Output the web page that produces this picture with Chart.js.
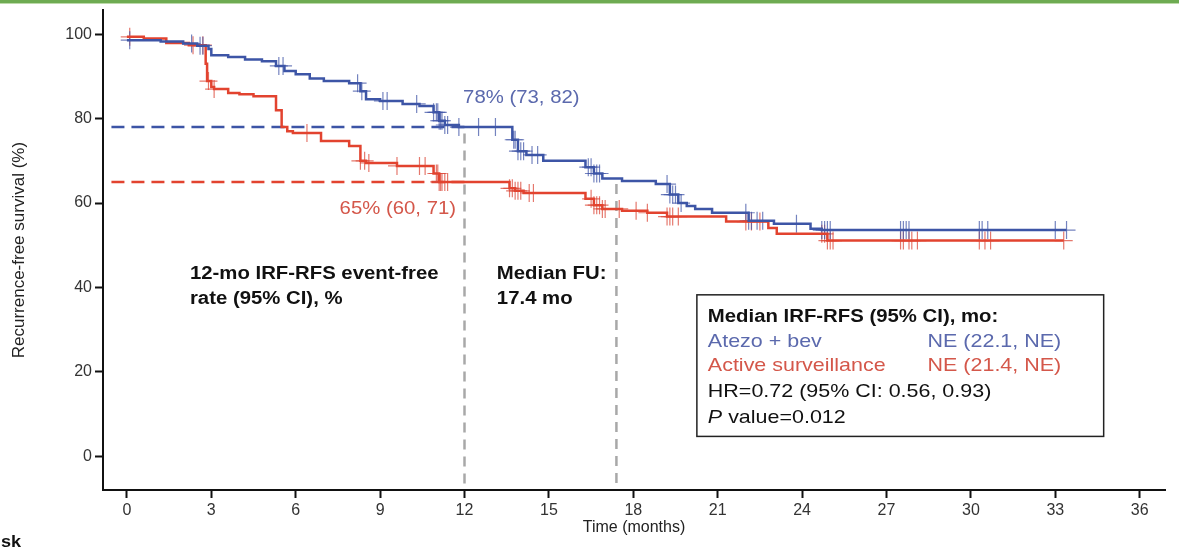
<!DOCTYPE html>
<html>
<head>
<meta charset="utf-8">
<title>IRF-RFS</title>
<script src="https://cdn.jsdelivr.net/npm/chart.js@4/dist/chart.umd.min.js"></script>
<style>
  html, body { margin: 0; padding: 0; background: #fff; }
  #wrap { position: relative; width: 1179px; height: 549px; }
  #topbar { position: absolute; left: 0; top: 0; width: 1179px; height: 3px; background: #6eab52; border-bottom: 1px solid #bcdaa9; }
  canvas { display: block; }
</style>
</head>
<body>
<div id="wrap">
  <canvas id="kmChart" width="1179" height="549"></canvas>
  <div id="topbar"></div>
</div>
<script>
// Kaplan-Meier steps: month of each step and survival (%) after it
const blueTimes = [0, 1.2, 2.0, 2.5, 2.9, 3.0, 3.6, 4.2, 4.8, 5.3, 5.6, 6.0, 6.5, 7.0, 7.9, 8.3, 8.5, 9.0, 9.8, 10.4,
                   10.9, 11.1, 11.3, 11.8, 13.7, 13.9, 14.2, 14.8, 16.3, 16.6, 16.9, 17.6, 18.8, 19.3, 19.6, 19.9, 20.2,
                   20.8, 22.1, 23.0, 24.3, 24.7, 33.4];
const blueSurv  = [98.6, 98.3, 97.8, 97.3, 96.5, 95.0, 94.6, 94.0, 93.6, 92.5, 91.3, 90.5, 89.5, 88.9, 88.4, 86.5, 84.6, 84.2, 83.5, 83.0,
                   81.5, 79.5, 78.5, 78.0, 75.0, 72.3, 71.4, 70.0, 68.5, 67.0, 65.8, 65.2, 64.5, 62.0, 60.0, 59.3, 58.6,
                   57.7, 55.8, 55.1, 53.9, 53.6, 53.6];
const redTimes  = [0, 0.6, 1.4, 2.2, 2.8, 2.85, 3.0, 3.1, 3.6, 4.0, 4.5, 5.3, 5.5, 5.7, 5.9, 6.9, 7.9, 8.3, 8.5, 9.6,
                   10.9, 11.1, 13.6, 13.8, 14.1, 16.3, 16.6, 16.9, 17.6, 18.5, 19.2, 21.3, 22.8, 23.1, 24.9, 33.3];
const redSurv   = [99.4, 99.0, 97.9, 97.4, 93.0, 88.9, 87.5, 87.0, 86.1, 85.8, 85.3, 82.0, 78.0, 77.0, 76.6, 74.7, 73.5, 70.0, 69.5, 68.8,
                   67.0, 65.0, 63.5, 62.9, 62.4, 61.0, 59.5, 58.6, 58.2, 57.7, 56.8, 55.6, 54.1, 52.7, 51.1, 51.1];

// censored patients (months)
const blueCensor = [0.1, 2.3, 2.6, 2.7, 5.4, 5.55, 8.2, 8.35, 9.1, 9.25, 10.3, 10.9, 11.0, 11.05, 11.1, 11.15, 11.2, 11.3, 11.4,
                    11.8, 12.5, 13.1, 13.75, 13.8, 13.9, 14.0, 14.1, 14.4, 14.6, 16.4, 16.5, 16.6, 16.7, 16.8, 19.2, 19.3,
                    19.4, 19.5, 19.7, 22.0, 22.1, 22.2, 22.4, 22.6, 23.8, 24.7, 24.8, 24.9, 25.0, 27.5, 27.6, 27.7, 27.8,
                    30.3, 30.4, 30.6, 33.0, 33.4];
const redCensor  = [0.1, 2.35, 2.7, 2.9, 3.1, 6.4, 8.3, 8.45, 8.6, 9.6, 10.4, 10.6, 11.0, 11.05, 11.1, 11.15, 11.2, 11.3, 11.4,
                    13.6, 13.7, 13.8, 13.9, 14.0, 14.3, 14.45, 16.5, 16.6, 16.7, 16.8, 16.9, 17.0, 17.5, 18.1, 18.5, 19.2,
                    19.3, 19.4, 19.6, 22.0, 22.2, 22.5, 24.7, 24.8, 24.9, 25.0, 25.1, 27.5, 27.6, 27.8, 27.9, 28.1, 30.3,
                    30.5, 30.7, 33.3];

const xTicks = [0, 3, 6, 9, 12, 15, 18, 21, 24, 27, 30, 33, 36];
const yTicks = [0, 20, 40, 60, 80, 100];

const landmark = 12;          // months
const medianFollowUp = 17.4;  // months
const blueRate12 = 78;
const redRate12 = 65;

const BLUE = '#3d55a6';
const RED = '#e2432f';
const BLUE_TXT = '#5b69ad';
const RED_TXT = '#d4574a';
const FONT = "'Liberation Sans', Arial, sans-serif";

function steps(times, surv) {
  return times.map((t, i) => ({ x: t, y: surv[i] }));
}

function survAt(times, surv, t) {
  let v = surv[0];
  for (let i = 0; i < times.length; i++) {
    if (times[i] <= t) v = surv[i];
  }
  return v;
}

function censorPoints(list, times, surv) {
  return list.map(t => ({ x: t, y: survAt(times, surv, t) }));
}

// text is drawn a little wide, like the rest of the figure
function wideText(ctx, str, px, py, align) {
  ctx.save();
  ctx.translate(px, py);
  ctx.scale(1.13, 1);
  ctx.textAlign = align || 'left';
  ctx.fillText(str, 0, 0);
  ctx.restore();
}

const notes = {
  id: 'notes',
  afterDatasetsDraw(chart) {
    const { ctx } = chart;
    const xs = chart.scales.x, ys = chart.scales.y;
    const X = v => xs.getPixelForValue(v);
    const Y = v => ys.getPixelForValue(v);

    ctx.save();
    ctx.textBaseline = 'middle';

    ctx.font = '18px ' + FONT;
    ctx.fillStyle = BLUE_TXT;
    wideText(ctx, blueRate12 + '% (73, 82)', X(11.95), Y(84.8));
    ctx.fillStyle = RED_TXT;
    wideText(ctx, redRate12 + '% (60, 71)', X(11.7), Y(58.6), 'right');

    ctx.fillStyle = '#111';
    ctx.font = 'bold 18px ' + FONT;
    wideText(ctx, '12-mo IRF-RFS event-free', X(2.24), Y(43.2));
    wideText(ctx, 'rate (95% CI), %', X(2.24), Y(37.3));
    wideText(ctx, 'Median FU:', X(13.15), Y(43.2));
    wideText(ctx, medianFollowUp + ' mo', X(13.15), Y(37.3));

    // median IRF-RFS box
    const bx0 = X(20.26), bx1 = X(34.72), by0 = Y(38.25), by1 = Y(4.7);
    ctx.strokeStyle = '#222';
    ctx.lineWidth = 1.5;
    ctx.strokeRect(bx0, by0, bx1 - bx0, by1 - by0);

    const c1 = X(20.65), c2 = X(28.46);
    ctx.font = 'bold 18px ' + FONT;
    wideText(ctx, 'Median IRF-RFS (95% CI), mo:', c1, Y(33.1));
    ctx.font = '19px ' + FONT;
    ctx.fillStyle = BLUE_TXT;
    wideText(ctx, 'Atezo + bev', c1, Y(27.2));
    wideText(ctx, 'NE (22.1, NE)', c2, Y(27.2));
    ctx.fillStyle = RED_TXT;
    wideText(ctx, 'Active surveillance', c1, Y(21.5));
    wideText(ctx, 'NE (21.4, NE)', c2, Y(21.5));
    ctx.fillStyle = '#111';
    wideText(ctx, 'HR=0.72 (95% CI: 0.56, 0.93)', c1, Y(15.3));
    ctx.font = 'italic 19px ' + FONT;
    wideText(ctx, 'P', c1, Y(9.2));
    const pw = ctx.measureText('P ').width * 1.13;
    ctx.font = '19px ' + FONT;
    wideText(ctx, 'value=0.012', c1 + pw, Y(9.2));

    // start of the risk table row, mostly off the left edge
    ctx.font = 'bold 16px ' + FONT;
    wideText(ctx, 'No. at risk', 21, 543, 'right');
    ctx.restore();
  }
};

const ctx = document.getElementById('kmChart').getContext('2d');
const kmChart = new Chart(ctx, {
  type: 'line',
  data: {
    datasets: [
      {
        data: steps(blueTimes, blueSurv),
        borderColor: BLUE, borderWidth: 2.5, stepped: 'before', pointRadius: 0, order: 1
      },
      {
        data: steps(redTimes, redSurv),
        borderColor: RED, borderWidth: 2.5, stepped: 'before', pointRadius: 0, order: 1
      },
      {
        data: censorPoints(blueCensor, blueTimes, blueSurv),
        showLine: false, pointStyle: 'cross', pointRadius: 9, pointBorderWidth: 1.2,
        pointBorderColor: 'rgba(70, 90, 170, 0.75)', order: 2
      },
      {
        data: censorPoints(redCensor, redTimes, redSurv),
        showLine: false, pointStyle: 'cross', pointRadius: 9, pointBorderWidth: 1.2,
        pointBorderColor: 'rgba(220, 75, 60, 0.75)', order: 2
      },
      // 12-month rates
      {
        data: [{ x: -0.55, y: blueRate12 }, { x: landmark, y: blueRate12 }],
        borderColor: BLUE, borderWidth: 2.5, borderDash: [13, 7], pointRadius: 0, order: 3
      },
      {
        data: [{ x: -0.55, y: redRate12 }, { x: landmark, y: redRate12 }],
        borderColor: RED, borderWidth: 2.5, borderDash: [13, 7], pointRadius: 0, order: 3
      },
      // landmark and median follow-up
      {
        data: [{ x: landmark, y: 76.5 }, { x: landmark, y: -6.5 }],
        borderColor: '#a8a8a8', borderWidth: 2.5, borderDash: [10, 7], pointRadius: 0, order: 4
      },
      {
        data: [{ x: medianFollowUp, y: 64.5 }, { x: medianFollowUp, y: -6.5 }],
        borderColor: '#a8a8a8', borderWidth: 2.5, borderDash: [10, 7], pointRadius: 0, order: 4
      }
    ]
  },
  options: {
    responsive: false,
    devicePixelRatio: 1,
    animation: false,
    layout: { padding: { top: 6, right: 14, left: 0, bottom: 0 } },
    plugins: {
      legend: { display: false },
      tooltip: { enabled: false }
    },
    scales: {
      x: {
        type: 'linear',
        min: -0.85,
        max: 36.9,
        afterFit: s => { s.height = 59; },
        afterBuildTicks: s => { s.ticks = xTicks.map(v => ({ value: v })); },
        grid: { drawOnChartArea: false, drawTicks: true, tickLength: 8, tickWidth: 2, tickColor: '#111' },
        border: { display: true, color: '#111', width: 2 },
        ticks: { color: '#333', font: { family: FONT, size: 16 }, padding: 3, maxRotation: 0 },
        title: { display: true, text: 'Time (months)', color: '#222', font: { family: FONT, size: 16 }, padding: { top: 0, bottom: 12 } }
      },
      y: {
        min: -8,
        max: 105.7,
        // top tick sits well below the frame, so no label room is needed there
        afterFit: s => { s.width = 103; s.paddingTop = 0; s.paddingBottom = 0; },
        afterBuildTicks: s => { s.ticks = yTicks.map(v => ({ value: v })); },
        grid: { drawOnChartArea: false, drawTicks: true, tickLength: 8, tickWidth: 2, tickColor: '#111' },
        border: { display: true, color: '#111', width: 2 },
        ticks: { color: '#333', font: { family: FONT, size: 16 }, padding: 3 },
        title: { display: true, text: 'Recurrence-free survival (%)', color: '#222', font: { family: FONT, size: 17 }, padding: { top: 9, bottom: 0 } }
      }
    }
  },
  plugins: [notes]
});
</script>
</body>
</html>
